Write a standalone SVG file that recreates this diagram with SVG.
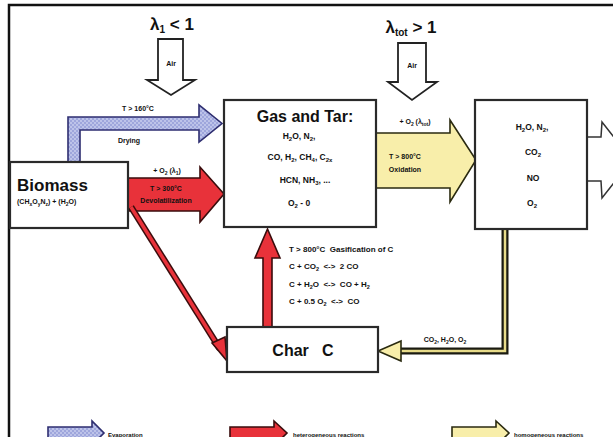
<svg xmlns="http://www.w3.org/2000/svg" width="613" height="437" viewBox="0 0 613 437">
<defs>
<pattern id="dots" width="4" height="4" patternUnits="userSpaceOnUse">
<rect width="4" height="4" fill="#9ea6dc"/>
<circle cx="1" cy="1" r="0.8" fill="#e4e8fa"/>
<circle cx="3" cy="3" r="0.8" fill="#e4e8fa"/>
</pattern>
<style>
.box{fill:#fff;stroke:#2a2a2a;stroke-width:2.2}
.t{font-family:"Liberation Sans",Arial,sans-serif;font-weight:bold;fill:#111;white-space:pre}
.big{font-size:16px}
.sm{font-size:8.5px}
.xs{font-size:7px}
.g{font-size:8px}
.red{fill:#e8323a;stroke:#3a0c0c;stroke-width:1.6;stroke-linejoin:miter}
.yel{fill:#f8eeaa;stroke:#2a2a10;stroke-width:1.6}
.blue{fill:url(#dots);stroke:#2e2e70;stroke-width:1.6}
.air{fill:#fff;stroke:#222;stroke-width:1.8}
</style>
</defs>
<rect width="613" height="437" fill="#fff"/>
<path d="M9,437 L9,5 L613,5" fill="none" stroke="#111" stroke-width="2.5"/>

<g id="air1">
<text class="t" x="172" y="30" text-anchor="middle" font-size="17">λ<tspan font-size="10" dy="3">1</tspan><tspan dy="-3"> &lt; 1</tspan></text>
<path class="air" d="M158,39 L183,39 L183,80 L195,80 L171,95 L147,80 L158,80 Z"/>
<text class="t xs" x="171" y="66" text-anchor="middle">Air</text>
</g>

<g id="air2">
<text class="t" x="411" y="33" text-anchor="middle" font-size="17">λ<tspan font-size="10" dy="3">tot</tspan><tspan dy="-3"> &gt; 1</tspan></text>
<path class="air" d="M398,43 L426,43 L426,82 L437,82 L412,100 L388,82 L398,82 Z"/>
<text class="t xs" x="412" y="68" text-anchor="middle">Air</text>
</g>

<g id="connectors">
<path class="blue" d="M68,162 L68,117 L199,117 L199,105 L222,123.5 L199,142 L199,130 L80,130 L80,162 Z"/>
<text class="t xs" x="138" y="111" text-anchor="middle">T &gt; 160°C</text>
<text class="t xs" x="129" y="143" text-anchor="middle">Drying</text>

<path class="red" d="M128,178 L200,178 L200,167 L224,194 L200,222 L200,211 L128,211 Z"/>
<text class="t xs" x="167" y="173" text-anchor="middle">+ O<tspan font-size="5" dy="2">2</tspan><tspan dy="-2"> (λ</tspan><tspan font-size="5" dy="2">1</tspan><tspan dy="-2">)</tspan></text>
<text class="t xs" x="166" y="191" text-anchor="middle" fill="#3a0a0a">T &gt; 300°C</text>
<text class="t xs" x="166" y="203" text-anchor="middle" fill="#3a0a0a">Devolatilization</text>

<path class="yel" d="M376,133 L450,133 L450,120 L476,160 L450,202 L450,188 L376,188 Z"/>
<text class="t xs" x="415" y="124" text-anchor="middle">+ O<tspan font-size="5" dy="2">2</tspan><tspan dy="-2"> (λ</tspan><tspan font-size="5" dy="2">tot</tspan><tspan dy="-2">)</tspan></text>
<text class="t xs" x="405" y="159" text-anchor="middle">T &gt; 800°C</text>
<text class="t xs" x="405" y="172" text-anchor="middle">Oxidation</text>

<path d="M131,207 L220,349" stroke="#3a0c0c" stroke-width="6.5" fill="none"/>
<path d="M131,207 L220,349" stroke="#e8323a" stroke-width="3.5" fill="none"/>
<path class="red" d="M212,343 L227,361 L225,337 Z"/>

<path class="red" d="M263,327 L263,258 L255,258 L267.5,229 L280,258 L272,258 L272,327 Z"/>
<text class="t g" x="289" y="252">T &gt; 800°C  Gasification of C</text>
<text class="t g" x="289" y="269">C + CO<tspan font-size="5.5" dy="2">2</tspan><tspan dy="-2">  &lt;-&gt;  2 CO</tspan></text>
<text class="t g" x="289" y="287">C + H<tspan font-size="5.5" dy="2">2</tspan><tspan dy="-2">O  &lt;-&gt;  CO + H</tspan><tspan font-size="5.5" dy="2">2</tspan></text>
<text class="t g" x="289" y="304">C + 0.5 O<tspan font-size="5.5" dy="2">2</tspan><tspan dy="-2">  &lt;-&gt;  CO</tspan></text>

<path d="M505,229 L505,351 L399,351" fill="none" stroke="#1a1a10" stroke-width="7"/>
<path d="M505,229 L505,351 L399,351" fill="none" stroke="#e8dc8a" stroke-width="2.5"/>
<path class="yel" d="M401,341 L378,351 L401,361 Z"/>
<text class="t xs" x="445" y="342" text-anchor="middle">CO<tspan font-size="5" dy="2">2</tspan><tspan dy="-2">, H</tspan><tspan font-size="5" dy="2">2</tspan><tspan dy="-2">O, O</tspan><tspan font-size="5" dy="2">2</tspan></text>

<path d="M587,137 L601,137 L602,122 L632,160 L602,198 L601,181 L587,181" fill="#fff" stroke="#333" stroke-width="1.5"/>
</g>

<g id="gas">
<rect class="box" x="224" y="100" width="152" height="127"/>
<text class="t big" x="305" y="122" text-anchor="middle">Gas and Tar:</text>
<text class="t sm" x="299" y="139" text-anchor="middle">H<tspan font-size="6" dy="2">2</tspan><tspan dy="-2">O, N</tspan><tspan font-size="6" dy="2">2</tspan><tspan dy="-2">,</tspan></text>
<text class="t sm" x="300" y="160" text-anchor="middle">CO, H<tspan font-size="6" dy="2">2</tspan><tspan dy="-2">, CH</tspan><tspan font-size="6" dy="2">4</tspan><tspan dy="-2">, C</tspan><tspan font-size="6" dy="2">2x</tspan></text>
<text class="t sm" x="305" y="183" text-anchor="middle">HCN, NH<tspan font-size="6" dy="2">3</tspan><tspan dy="-2">, ...</tspan></text>
<text class="t sm" x="299" y="206" text-anchor="middle">O<tspan font-size="6" dy="2">2</tspan><tspan dy="-2"> - 0</tspan></text>
</g>

<g id="flue">
<rect class="box" x="475" y="100" width="112" height="129"/>
<text class="t sm" x="532" y="130" text-anchor="middle">H<tspan font-size="6" dy="2">2</tspan><tspan dy="-2">O, N</tspan><tspan font-size="6" dy="2">2</tspan><tspan dy="-2">,</tspan></text>
<text class="t sm" x="533" y="155" text-anchor="middle">CO<tspan font-size="6" dy="2">2</tspan></text>
<text class="t sm" x="533" y="181" text-anchor="middle">NO</text>
<text class="t sm" x="532" y="206" text-anchor="middle">O<tspan font-size="6" dy="2">2</tspan></text>
</g>

<g id="biomass">
<rect class="box" x="10" y="162" width="118" height="66"/>
<text class="t" x="17" y="191" font-size="17">Biomass</text>
<text class="t xs" x="17" y="204">(CH<tspan font-size="5" dy="2">x</tspan><tspan dy="-2">O</tspan><tspan font-size="5" dy="2">y</tspan><tspan dy="-2">N</tspan><tspan font-size="5" dy="2">z</tspan><tspan dy="-2">) + (H</tspan><tspan font-size="5" dy="2">2</tspan><tspan dy="-2">O)</tspan></text>
</g>

<g id="char">
<rect class="box" x="227" y="327" width="151" height="45"/>
<text class="t big" x="303" y="356" text-anchor="middle">Char   C</text>
</g>

<g id="legend">
<path class="blue" d="M48,427 L92,427 L92,421 L104,433 L98,439 L48,439 Z"/>
<text class="t" x="108" y="437" font-size="6">Evaporation</text>
<path class="red" d="M230,427 L274,427 L274,421 L287,433 L281,439 L230,439 Z"/>
<text class="t" x="293" y="437" font-size="6">heterogeneous reactions</text>
<path class="yel" d="M452,427 L496,427 L496,421 L509,433 L503,439 L452,439 Z"/>
<text class="t" x="514" y="437" font-size="6">homogeneous reactions</text>
</g>
</svg>
